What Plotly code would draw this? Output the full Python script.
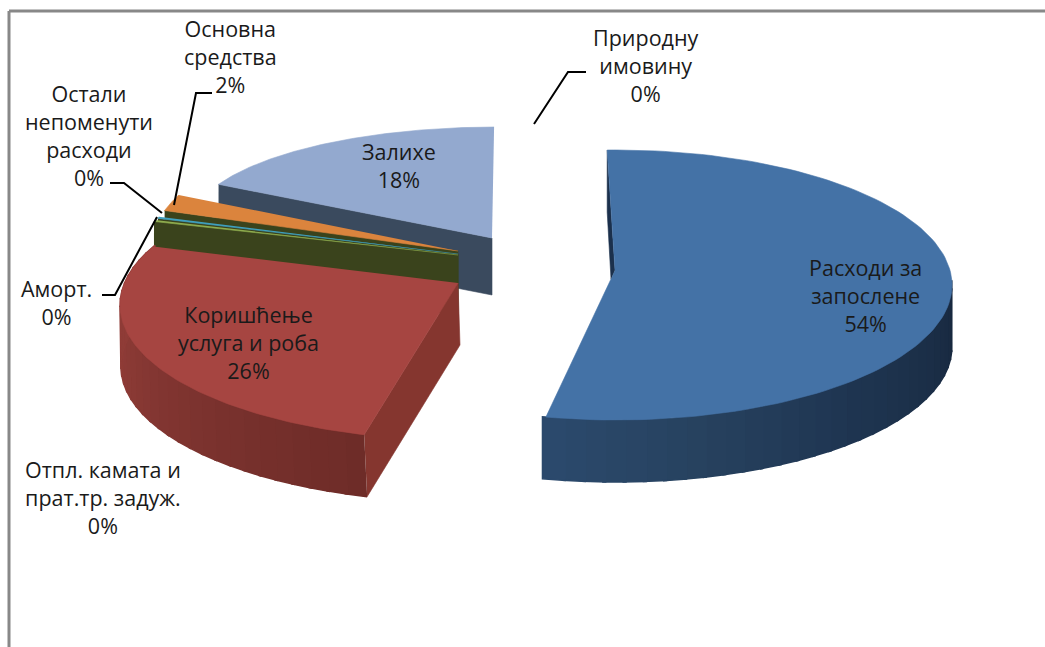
import numpy as np
import plotly.graph_objects as go

# --- data ---
categories = ["Расходи за<br>запослене", "Отпл. камата и<br>прат.тр. задуж.", "Коришћење<br>услуга и роба",
              "Аморт.", "Остали<br>непоменути<br>расходи", "Основна<br>средства", "Залихе", "Природну<br>имовину"]
shares = [53.6, 0.1, 25.6, 0.2, 0.2, 2.0, 18.2, 0.1]

# --- styles / projection of the tilted, exploded pie ---
W, H = 1045, 647
top_colors = ["#4472a6", "#a64541", "#a64541", "#8fad4f", "#3fa0c0", "#db843d", "#93a9cf", "#4472a6"]
wall_colors = ["#1b304c", "#85362f", "#85362f", "#3a431c", "#3a431c", "#3a431c", "#3a4a5e", "#1b304c"]
apex_x = [615, 458, 458, 458, 458, 458, 492, 612]
apex_y = [270, 283, 283, 255, 254, 251, 238, 270]
centre_x = [616, 458, 458, 458, 458, 458, 496, 612]
centre_y = [285, 305, 305, 254, 253, 251, 224, 285]
radius_x = [336, 338, 338, 314, 311, 308, 304, 336]
radius_y = [135, 135, 135, 130, 132, 133, 97, 135]
depth = [62, 62, 62, 60, 60, 60, 57, 62]
rotate = [-1.5, 0, 2.8, -1, -1, 0.8, 0, 0]
stretch = [1.003, 1, 1.08, 1, 1, 1, 1, 1]
rim_stops = {0: ([90, 135, 165, 193], ["#18293f", "#1f3551", "#27425f", "#2c4a6e"]),
             2: ([196, 230, 265, 297], ["#6e2c28", "#7c332f", "#8f3c37", "#8f3c37"])}
paint_order = [6, 5, 4, 3, 2, 0]

label_x = [865, 103, 248, 56, 89, 230, 399, 646]
label_y = [295, 497, 342, 302, 135, 56, 165, 65]
leader_x = [[212, 196, 174], [110, 124, 162], [102, 115, 157], [586, 568, 534]]
leader_y = [[93, 93, 205], [183, 183, 213], [295, 295, 217], [72, 72, 124]]


def point(i, deg):
    t = np.radians(deg)
    return centre_x[i] + radius_x[i] * np.sin(t), centre_y[i] - radius_y[i] * np.cos(t)


def hex_rgb(c):
    return np.array([int(c[k:k + 2], 16) for k in (1, 3, 5)], float)


def mix(stops, deg):
    pos, cols = stops
    rgb = [np.interp(deg, pos, [hex_rgb(c)[k] for c in cols]) for k in range(3)]
    return "rgb(%d,%d,%d)" % tuple(rgb)


def poly(fig, xs, ys, color, lw=0.6):
    fig.add_trace(go.Scatter(x=list(xs), y=list(ys), mode="lines", fill="toself", fillcolor=color,
                             line=dict(color=color, width=lw), hoverinfo="skip", showlegend=False))


fig = go.Figure()
ends = np.cumsum(shares) / sum(shares) * 360
starts = np.concatenate([[0], ends[:-1]])

for i in paint_order:
    a0 = starts[i] + rotate[i]
    a1 = a0 + (ends[i] - starts[i]) * stretch[i]
    d = depth[i]
    sx, sy = point(i, a0)
    # cut walls
    if i in (3, 4, 5, 6):
        poly(fig, [sx, apex_x[i], apex_x[i], sx], [sy, apex_y[i], apex_y[i] + d, sy + d], wall_colors[i])
    if i == 2:
        poly(fig, [sx, apex_x[i], apex_x[i] + 2, sx + 3], [sy, apex_y[i], apex_y[i] + d, sy + d], wall_colors[i])
    if i == 0:
        poly(fig, [sx, sx, apex_x[i] - 4, apex_x[i]], [sy, sy + d, apex_y[i] + 9, apex_y[i]], wall_colors[i])
    # rim
    if i in rim_stops:
        lo = max(a0, 88)
        edges = np.linspace(lo, a1, 31)
        for e0, e1 in zip(edges[:-1], edges[1:]):
            x0, y0 = point(i, e0)
            x1, y1 = point(i, e1 + 0.6)
            shift = 3 * (1 - (e0 - lo) / (a1 - lo)) if i == 2 else 0
            poly(fig, [x0, x1, x1 + shift, x0 + shift], [y0, y1, y1 + d, y0 + d],
                 mix(rim_stops[i], (e0 + e1) / 2), lw=1.5)
    # top face
    arc = np.linspace(a0, a1, 120)
    px, py = point(i, arc)
    xs = [apex_x[i]] + list(px)
    ys = [apex_y[i]] + list(py)
    if i == 0:
        xs.append(apex_x[i] - 4)
        ys.append(apex_y[i] + 9)
    poly(fig, xs, ys, top_colors[i])

# leader lines
for lx, ly in zip(leader_x, leader_y):
    fig.add_trace(go.Scatter(x=lx, y=ly, mode="lines", line=dict(color="#000000", width=2),
                             hoverinfo="skip", showlegend=False))

for name, v, x, y in zip(categories, shares, label_x, label_y):
    fig.add_annotation(x=x, y=y, text=f"{name}<br>{round(v)}%", showarrow=False, align="center",
                       xanchor="center", yanchor="middle",
                       font=dict(family="Open Sans", size=21.5, color="#1a1a1a"))

# chart frame (open to the right and bottom, as cropped)
fig.add_shape(type="line", x0=9, x1=9, y0=11, y1=H, line=dict(color="#888888", width=3))
fig.add_shape(type="line", x0=9, x1=W, y0=11, y1=11, line=dict(color="#888888", width=3))

fig.update_layout(width=W, height=H, margin=dict(l=0, r=0, t=0, b=0), paper_bgcolor="white",
                  plot_bgcolor="white", showlegend=False,
                  xaxis=dict(range=[0, W], visible=False, fixedrange=True),
                  yaxis=dict(range=[H, 0], visible=False, fixedrange=True))
fig.write_html("out.html", config={"displayModeBar": False},
               post_script="document.body.style.margin='0';document.documentElement.style.overflow='hidden';")
